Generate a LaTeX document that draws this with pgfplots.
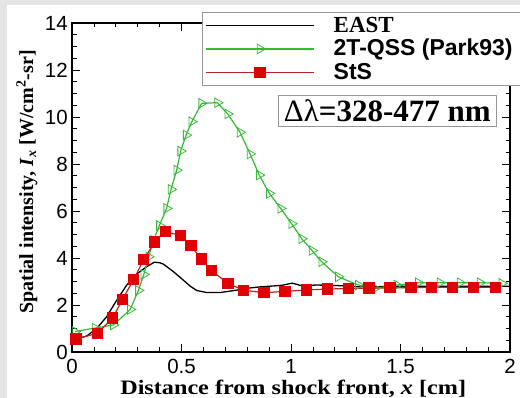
\documentclass[border=0pt]{standalone}
\usepackage{pgfplots}
\pgfplotsset{compat=1.18}
\usepackage{fontspec}
\setmainfont{Liberation Serif}
\newfontfamily\arial{Liberation Sans}
\newfontfamily\widserif[FakeStretch=1.18]{Liberation Serif}

\definecolor{qssgreen}{RGB}{55,185,55}
\definecolor{stsline}{RGB}{185,35,35}
\definecolor{stsmark}{RGB}{225,0,0}
\definecolor{framegray}{RGB}{229,229,229}
\definecolor{boxgray}{RGB}{150,150,150}

% Tecplot-style legend sample: long line with the marker in the middle
\pgfplotsset{
  tecline/.style={
    legend image code/.code={%
      \draw[mark repeat=2,mark phase=2,##1]
        plot coordinates {(0bp,7bp) (54bp,7bp) (108bp,7bp)};}
  }
}

\begin{document}
\begin{tikzpicture}
\useasboundingbox (0,0) rectangle (520bp,398bp);
\fill[framegray] (0,0) rectangle (520bp,398bp);
\fill[white] (6.5bp,0) rectangle (520bp,393bp);
\begin{axis}[
  at={(72bp,46bp)}, anchor=south west,
  scale only axis, width=438bp, height=329bp,
  xmin=0, xmax=2, ymin=0, ymax=14,
  xtick={0,0.5,1,1.5,2}, ytick={0,2,...,14},
  minor x tick num=4, minor y tick num=3,
  tick align=inside,
  major tick length=8bp, minor tick length=4.5bp,
  axis line style={line width=1.2bp},
  every tick/.style={black, line width=0.8bp},
  /pgf/number format/assume math mode=true,
  ticklabel style={font=\arial\fontsize{20.5bp}{21bp}\selectfont},
  xticklabel style={anchor=base, yshift=-21bp},
  yticklabel style={anchor=east, inner sep=0pt, xshift=-4bp},
  xlabel={Distance from shock front, \textit{x} [cm]},
  ylabel={Spatial intensity, \textit{I}\textsubscript{\textit{x}} [W/cm\textsuperscript{2}-sr]},
  ylabel style={font=\bfseries\fontsize{20bp}{22bp}\selectfont,
    at={(axis description cs:-0.089,0.517)}, anchor=base},
  xlabel style={font=\widserif\bfseries\fontsize{20.5bp}{22bp}\selectfont,
    at={(axis description cs:0.505,0)}, anchor=base, yshift=-42bp},
  legend cell align=left,
  legend style={
    at={(axis description cs:0.2968,1.0334)}, anchor=north west,
    draw=boxgray, line width=0.8bp, fill=white,
    inner xsep=3bp, inner ysep=1.3bp,
    column sep=19bp, row sep=0pt,
    font=\bfseries\fontsize{23bp}{24bp}\selectfont,
    cells={anchor=base west},
    nodes={inner sep=0pt, text height=18.75bp, text depth=4.75bp},
    row 1/.style={nodes={text height=25.45bp}},
  },
]

% EAST
\addplot[black, line width=1.3bp, tecline] coordinates {
  (0,0.55) (0.03,0.58) (0.067,0.68) (0.113,1.0) (0.158,1.5) (0.204,2.2)
  (0.25,2.85) (0.295,3.32) (0.341,3.63) (0.376,3.82) (0.40,3.8) (0.417,3.74)
  (0.463,3.42) (0.508,3.06) (0.54,2.8) (0.569,2.62) (0.615,2.53) (0.676,2.53)
  (0.737,2.61) (0.798,2.71) (0.858,2.77) (0.919,2.81) (0.96,2.84) (1.006,2.93)
  (1.049,2.82) (1.117,2.85) (1.208,2.83) (1.30,2.78) (1.4,2.78) (1.5,2.8)
  (1.6,2.8) (1.7,2.8) (1.8,2.8) (1.9,2.8) (2.0,2.8)
};
\addlegendentry{EAST}

% 2T-QSS (Park93)
\addplot[qssgreen, line width=1.2bp, mark=triangle, mark size=5.5bp,
  mark options={solid, rotate=-90, line width=0.8bp, fill=none}, tecline] coordinates {
  (0.014,0.87) (0.105,1.02) (0.189,1.15) (0.266,1.81) (0.303,2.62) (0.328,3.3)
  (0.350,4.05) (0.372,4.75) (0.399,5.38) (0.432,6.11) (0.452,6.92) (0.478,7.74)
  (0.496,8.55) (0.521,9.23) (0.547,9.8) (0.592,10.58) (0.664,10.61) (0.711,10.13)
  (0.767,9.35) (0.813,8.43) (0.855,7.53) (0.901,6.75) (0.953,6.11) (1.003,5.46)
  (1.049,4.82) (1.096,4.32) (1.14,3.84) (1.216,3.2) (1.307,2.85) (1.384,2.71)
  (1.483,2.85) (1.581,2.95) (1.68,2.95) (1.772,2.95) (1.863,2.95) (1.962,2.92)
};
\addlegendentry{{\arial 2T-QSS (Park93)}\hspace*{12bp}}

% StS
\addplot[stsline, line width=1.2bp, mark=square*, mark size=5bp,
  mark options={solid, draw=stsmark, fill=stsmark}, tecline] coordinates {
  (0.018,0.55) (0.117,0.80) (0.186,1.45) (0.231,2.25) (0.282,3.09) (0.327,3.93)
  (0.378,4.68) (0.426,5.12) (0.496,4.96) (0.543,4.52) (0.59,3.96) (0.636,3.47)
  (0.712,2.92) (0.784,2.63) (0.877,2.52) (0.973,2.58) (1.071,2.64) (1.168,2.68)
  (1.262,2.70) (1.356,2.72) (1.452,2.73) (1.548,2.74) (1.642,2.75) (1.738,2.75)
  (1.833,2.75) (1.932,2.75)
};
\addlegendentry{{\arial StS}}

\node[draw=boxgray, line width=0.8bp, fill=white, inner xsep=6bp, inner ysep=0pt,
  text height=26.5bp, text depth=4.5bp,
  font=\bfseries\fontsize{31bp}{32bp}\selectfont]
  at (rel axis cs:0.720,0.734) {{\mdseries Δλ}=328-477 nm};
\end{axis}
\end{tikzpicture}
\end{document}
